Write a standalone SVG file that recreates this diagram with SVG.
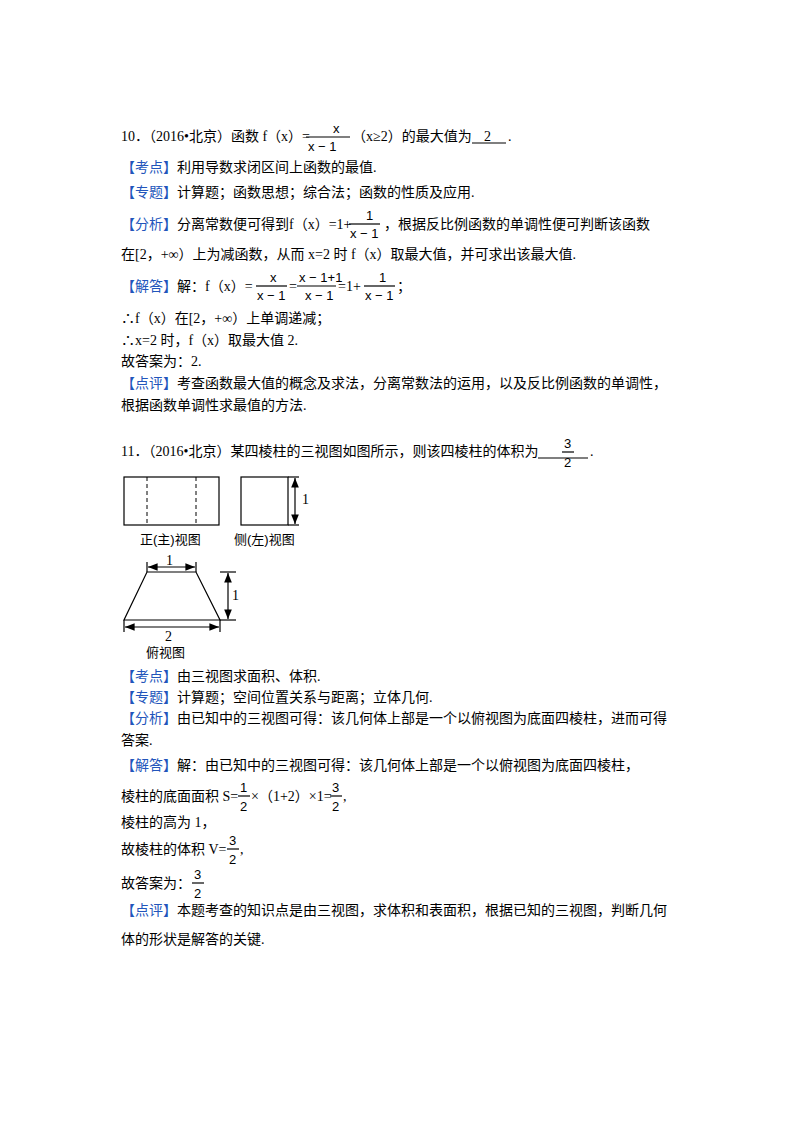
<svg xmlns="http://www.w3.org/2000/svg" width="800" height="1132" viewBox="0 0 800 1132">
<defs>
<style>
text{font-family:"Liberation Serif","Noto Sans CJK SC",serif;font-size:14px;fill:#000}
.b{fill:#2255bb}
.s{font-size:13px;font-family:"Liberation Sans","Noto Sans CJK SC",sans-serif}
.l{stroke:#000;stroke-width:1.2;fill:none}
.d{stroke:#000;stroke-width:1;stroke-dasharray:4,3}
</style>
<marker id="a" viewBox="0 0 10 10" refX="10" refY="5" markerWidth="8" markerHeight="8" orient="auto-start-reverse"><path d="M0,1L10,5L0,9z" fill="#000"/></marker>
</defs>
<rect width="800" height="1132" fill="#fff"/>
<!-- Q10 -->
<text x="121" y="141">10．（2016•北京）函数 f（x）=</text>
<text x="333" y="133" class="s">x</text><line x1="306" y1="137" x2="350" y2="137" class="l" stroke-width="1"/><text x="308" y="151" class="s">x − 1</text>
<text x="352" y="141">（x≥2）的最大值为</text><text x="484" y="141">2</text><line x1="472" y1="143" x2="506" y2="143" class="l" stroke-width="1"/><text x="508" y="141">.</text>
<text x="121" y="172"><tspan class="b">【考点】</tspan>利用导数求闭区间上函数的最值.</text>
<text x="121" y="197"><tspan class="b">【专题】</tspan>计算题；函数思想；综合法；函数的性质及应用.</text>
<text x="121" y="229"><tspan class="b">【分析】</tspan>分离常数便可得到f（x）=1+</text>
<text x="366" y="220" class="s">1</text><line x1="349" y1="224" x2="380" y2="224" class="l" stroke-width="1"/><text x="350" y="238" class="s">x − 1</text>
<text x="384" y="229">，根据反比例函数的单调性便可判断该函数</text>
<text x="121" y="259">在[2，+∞）上为减函数，从而 x=2 时 f（x）取最大值，并可求出该最大值.</text>
<text x="121" y="291"><tspan class="b">【解答】</tspan>解：f（x）=</text>
<text x="270" y="282" class="s">x</text><line x1="256" y1="286" x2="287" y2="286" class="l" stroke-width="1"/><text x="257" y="300" class="s">x − 1</text>
<text x="289" y="291">=</text>
<text x="299" y="282" class="s">x − 1+1</text><line x1="297" y1="286" x2="336" y2="286" class="l" stroke-width="1"/><text x="305" y="300" class="s">x − 1</text>
<text x="338" y="291">=1+</text>
<text x="379" y="282" class="s">1</text><line x1="364" y1="286" x2="395" y2="286" class="l" stroke-width="1"/><text x="365" y="300" class="s">x − 1</text>
<text x="397" y="291">；</text>
<text x="121" y="323">∴f（x）在[2，+∞）上单调递减；</text>
<text x="121" y="345">∴x=2 时，f（x）取最大值 2.</text>
<text x="121" y="366">故答案为：2.</text>
<text x="121" y="388"><tspan class="b">【点评】</tspan>考查函数最大值的概念及求法，分离常数法的运用，以及反比例函数的单调性，</text>
<text x="121" y="410">根据函数单调性求最值的方法.</text>
<!-- Q11 -->
<text x="121" y="456">11．（2016•北京）某四棱柱的三视图如图所示，则该四棱柱的体积为</text>
<line x1="538" y1="458" x2="588" y2="458" class="l" stroke-width="1"/>
<text x="564" y="448" class="s">3</text><line x1="562" y1="452" x2="574" y2="452" class="l" stroke-width="1"/><text x="564" y="467" class="s">2</text>
<text x="590" y="456">.</text>
<g id="front">
<rect x="124" y="477" width="95" height="48" class="l"/>
<line x1="147" y1="477" x2="147" y2="525" class="d"/>
<line x1="196" y1="477" x2="196" y2="525" class="d"/>
<text x="140" y="544" class="s">正(主)视图</text>
</g>
<g id="side">
<rect x="241" y="477" width="47" height="48" class="l"/>
<line x1="295" y1="478" x2="295" y2="524" class="l" marker-start="url(#a)" marker-end="url(#a)"/>
<line x1="288" y1="477" x2="299" y2="477" class="l" stroke-width="0.8"/>
<line x1="288" y1="525" x2="299" y2="525" class="l" stroke-width="0.8"/>
<text x="302" y="504" fill="#600">1</text>
<text x="234" y="544" class="s">侧(左)视图</text>
</g>
<g id="top">
<path d="M147,572 L196,572 L220,620 L124,620 Z" class="l"/>
<line x1="147" y1="562" x2="147" y2="572" class="l"/><line x1="196" y1="562" x2="196" y2="572" class="l"/>
<line x1="148" y1="567" x2="195" y2="567" class="l" marker-start="url(#a)" marker-end="url(#a)"/>
<text x="166" y="565">1</text>
<line x1="220" y1="572" x2="236" y2="572" class="l"/><line x1="220" y1="620" x2="236" y2="620" class="l"/>
<line x1="228" y1="573" x2="228" y2="619" class="l" marker-start="url(#a)" marker-end="url(#a)"/>
<text x="232" y="600">1</text>
<line x1="124" y1="620" x2="124" y2="632" class="l"/><line x1="220" y1="620" x2="220" y2="632" class="l"/>
<line x1="125" y1="627" x2="219" y2="627" class="l" marker-start="url(#a)" marker-end="url(#a)"/>
<text x="165" y="641">2</text>
<text x="146" y="657" class="s">俯视图</text>
</g>
<text x="121" y="681"><tspan class="b">【考点】</tspan>由三视图求面积、体积.</text>
<text x="121" y="702"><tspan class="b">【专题】</tspan>计算题；空间位置关系与距离；立体几何.</text>
<text x="121" y="723"><tspan class="b">【分析】</tspan>由已知中的三视图可得：该几何体上部是一个以俯视图为底面四棱柱，进而可得</text>
<text x="121" y="745">答案.</text>
<text x="121" y="770"><tspan class="b">【解答】</tspan>解：由已知中的三视图可得：该几何体上部是一个以俯视图为底面四棱柱，</text>
<text x="121" y="801">棱柱的底面面积 S=</text>
<text x="240" y="792" class="s">1</text><line x1="238" y1="796" x2="250" y2="796" class="l" stroke-width="1"/><text x="240" y="811" class="s">2</text>
<text x="251" y="801">×（1+2）×1=</text>
<text x="332" y="792" class="s">3</text><line x1="330" y1="796" x2="342" y2="796" class="l" stroke-width="1"/><text x="332" y="811" class="s">2</text>
<text x="343" y="801">,</text>
<text x="121" y="827">棱柱的高为 1，</text>
<text x="121" y="854">故棱柱的体积 V=</text>
<text x="229" y="845" class="s">3</text><line x1="227" y1="849" x2="239" y2="849" class="l" stroke-width="1"/><text x="229" y="864" class="s">2</text>
<text x="240" y="854">,</text>
<text x="121" y="888">故答案为：</text>
<text x="194" y="879" class="s">3</text><line x1="192" y1="883" x2="204" y2="883" class="l" stroke-width="1"/><text x="194" y="898" class="s">2</text>
<text x="121" y="915"><tspan class="b">【点评】</tspan>本题考查的知识点是由三视图，求体积和表面积，根据已知的三视图，判断几何</text>
<text x="121" y="944">体的形状是解答的关键.</text>
</svg>
